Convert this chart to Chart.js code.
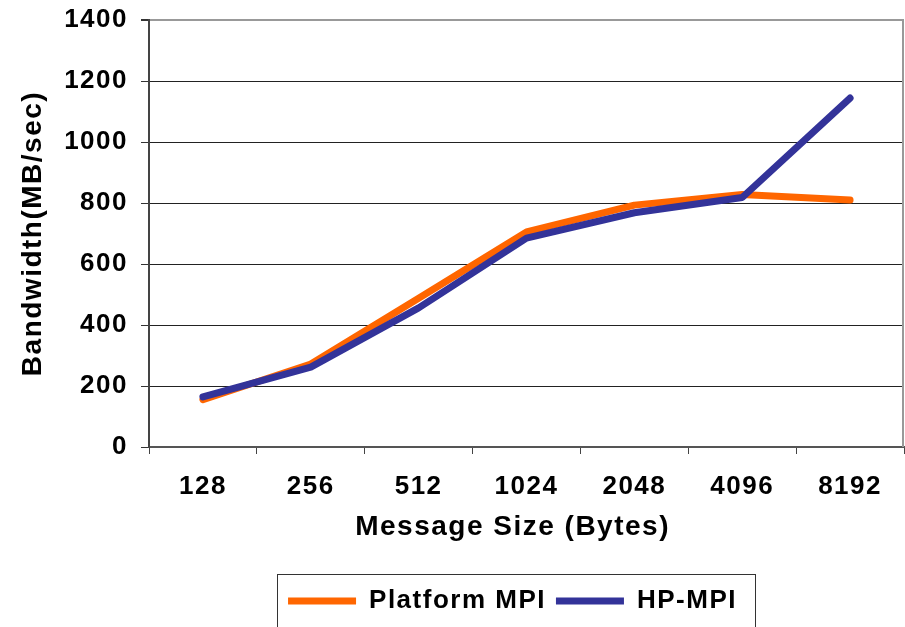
<!DOCTYPE html>
<html>
<head>
<meta charset="utf-8">
<script src="https://cdn.jsdelivr.net/npm/chart.js@4.4.1/dist/chart.umd.min.js"></script>
<style>
  html, body { margin: 0; padding: 0; background: #fff; }
  #wrap { width: 905px; height: 627px; }
</style>
</head>
<body>
<div id="wrap"><canvas id="myChart"></canvas></div>
<script>
// values (MB/sec)
const messageSizes = ['128', '256', '512', '1024', '2048', '4096', '8192'];
const platformMpi = [155, 272, 488, 705, 793, 828, 810];
const hpMpi = [164, 262, 456, 685, 768, 818, 1144];
const yMin = 0, yMax = 1400, yStep = 200;

Chart.defaults.font.family = "'Liberation Sans', Arial, sans-serif";
Chart.defaults.font.weight = 'bold';
Chart.defaults.color = '#000';

// the original text is a bit spread out
const spacing = {
  id: 'spacing',
  beforeUpdate(chart) { chart.ctx.letterSpacing = '1.5px'; },
  beforeLayout(chart) { chart.ctx.letterSpacing = '1.5px'; },
  beforeDraw(chart) { chart.ctx.letterSpacing = '1.5px'; }
};

// centre the legend under the plot and frame it, plus the plot's right edge
const legendFrame = {
  id: 'legendFrame',
  afterLayout(chart) {
    chart.legend.left = chart.chartArea.left - 28;
    chart.legend.right = chart.chartArea.right;
  },
  afterDraw(chart) {
    const ctx = chart.ctx;
    const area = chart.chartArea;
    ctx.save();
    ctx.strokeStyle = '#999';
    ctx.lineWidth = 2;
    ctx.beginPath();
    ctx.moveTo(area.right - 1, area.top);
    ctx.lineTo(area.right - 1, area.bottom);
    ctx.stroke();

    const boxes = chart.legend.legendHitBoxes;
    const first = boxes[0], last = boxes[boxes.length - 1];
    const l = first.left - 11;
    const r = last.left + last.width + 18;
    ctx.strokeStyle = '#333';
    ctx.lineWidth = 1;
    ctx.strokeRect(Math.round(l) + 0.5, chart.legend.top - 3.5, Math.round(r - l), chart.height);
    ctx.restore();
  }
};

const ctx = document.getElementById('myChart').getContext('2d');
const myChart = new Chart(ctx, {
  type: 'line',
  data: {
    labels: messageSizes,
    datasets: [{
      label: 'Platform MPI',
      data: platformMpi,
      borderColor: '#FF6600',
      backgroundColor: '#FF6600',
      borderWidth: 7,
      borderCapStyle: 'round',
      borderJoinStyle: 'round',
      pointRadius: 0,
      order: 2
    }, {
      label: 'HP-MPI',
      data: hpMpi,
      borderColor: '#333399',
      backgroundColor: '#333399',
      borderWidth: 7,
      borderCapStyle: 'round',
      borderJoinStyle: 'round',
      pointRadius: 0,
      order: 1
    }]
  },
  options: {
    responsive: true,
    maintainAspectRatio: false,
    animation: false,
    events: [],
    layout: { padding: { top: 20, right: 1, bottom: 3, left: 0 } },
    plugins: {
      tooltip: { enabled: false },
      legend: {
        position: 'bottom',
        labels: {
          usePointStyle: true,
          pointStyle: 'line',
          pointStyleWidth: 68,
          boxHeight: 7,
          padding: 10,
          color: '#000',
          font: { size: 26, weight: 'bold' },
          sort: (a, b) => a.datasetIndex - b.datasetIndex
        }
      }
    },
    scales: {
      x: {
        offset: true,
        ticks: { padding: 17, font: { size: 26, weight: 'bold' } },
        grid: { offset: true, drawOnChartArea: false, tickLength: 7, color: '#444' },
        border: { color: '#555', width: 2 },
        title: {
          display: true,
          text: 'Message Size (Bytes)   ',
          font: { size: 28, weight: 'bold' },
          padding: { top: 0, bottom: 34 }
        },
        afterFit(scale) { scale.height = 131; }
      },
      y: {
        min: yMin,
        max: yMax,
        ticks: {
          stepSize: yStep,
          padding: 13,
          font: { size: 26, weight: 'bold' },
          callback: v => String(v)
        },
        grid: {
          color: c => (c.tick && c.tick.value === yMax) ? '#999' : '#222',
          lineWidth: c => (c.tick && c.tick.value === yMax) ? 2 : 1,
          tickLength: 8,
          tickColor: '#333'
        },
        border: { color: '#444', width: 2 },
        title: {
          display: true,
          text: 'Bandwidth(MB/sec)',
          font: { size: 28, weight: 'bold' },
          padding: { top: 16, bottom: 0 }
        },
        afterFit(scale) {
          scale.width = 149;
          scale.paddingTop = 0;
          scale.paddingBottom = 0;
        }
      }
    }
  },
  plugins: [spacing, legendFrame]
});
</script>
</body>
</html>
